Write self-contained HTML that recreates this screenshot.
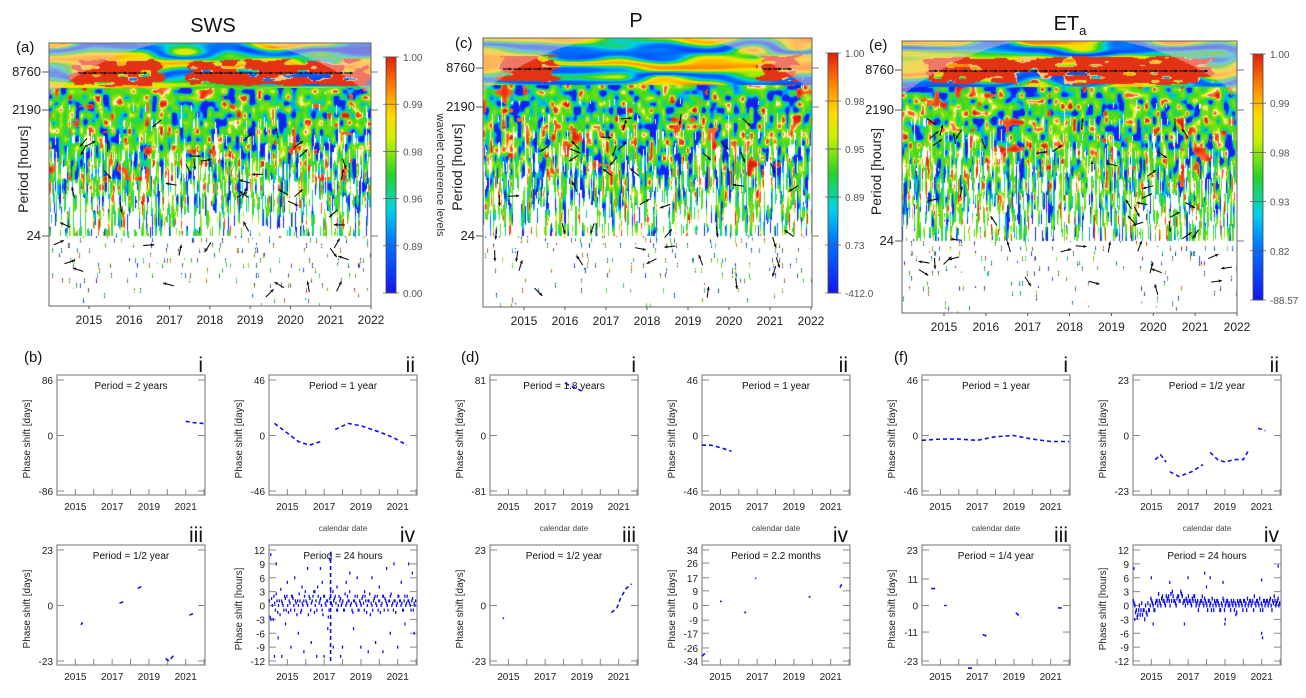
<!DOCTYPE html>
<html><head><meta charset="utf-8">
<style>
body{margin:0;background:#fff;width:1306px;height:698px;overflow:hidden;position:relative;font-family:"Liberation Sans",sans-serif}
canvas{position:absolute}
svg{position:absolute;left:0;top:0}
</style></head>
<body>
<canvas id="ca"></canvas>
<canvas id="cc"></canvas>
<canvas id="ce"></canvas>
<svg id="s" width="1306" height="698"></svg>
<script>
// ---- data: phase shift series ----
const years=[2015,2016,2017,2018,2019,2020,2021,2022];
const yearLabels=[2015,2017,2019,2021];
const bI=[[2021.0,22],[2021.4,20],[2021.8,19],[2022.1,18]];
const bII=[[2014.3,10],[2015,2],[2015.6,-5],[2016.2,-8],[2016.8,-5],null,[2017.6,5],[2018.3,10],[2019,8],[2020,3],[2020.8,-2],[2021.5,-8]];
const bIII=[[2015.3,-8],[2015.4,-7],null,[2017.4,1],[2017.6,1.5],null,[2018.4,7],[2018.6,8],null,[2019.9,-22],[2020.1,-23],[2020.4,-20],null,[2021.2,-4],[2021.5,-3]];
const bIVcoreA=[1,-3,0,2,-1,1,0,-2,1,0,2,-1,0,1,-1,2,0,1,-2,0,1,-1,0,2,1,0,2,-1,1,3,0,-1,2,1,0,-2,2,0,1,-1,3,0,1,2,-1,0,1,0,1,-1,0,2,1,0,-1,1,2,0,-1,1,0,2,-1,1,0,1,-2,0,1,2,0,-1,1,0,2,-1,1,0,1,2,0,-1,1,0,2,1,0,-1,1,0,2,1,0,1,-1,0];
const bIVcoreB=[-2.5,1.5,-3,0.5,2.5,-1.5,1,3.5,0.5,-1,1.5,2,-1.5,0.5,2,1.5,-1,0.5,1,2.5,-1.5,0.5,1,3,0.5,-2,1.5,0.5,2,-1.5,1,4,0.5,1.5,-1,2,0.5,1,-2.5,1.5,0.5,3,1.5,0.5,-1,2,1.5,0.5,-1,2.5,0.5,1,3,0.5,-1.5,1,0.5,2,-1,0.5,1.5,0.5,2,-1.5,1,2.5,0.5,-1,1.5,0.5,2,1,-1.5,0.5,2,1.5,0.5,-1,1,2.5,0.5,1,-1.5,0.5,2,1,0.5,-1,2,0.5,1,0.5,-1,1.5,0.5,1];
const bIVout=[[2014.1,11],[2014.3,-11],[2014.4,9],[2014.5,-7],[2014.7,-11],[2014.9,-4],[2015.0,5],[2015.2,-9],[2015.4,6],[2015.6,-6],[2015.8,4],[2015.9,-10],[2016.1,8],[2016.3,-8],[2016.5,3],[2016.6,-11],[2016.8,8],[2016.9,5],[2017.0,-11],[2017.2,-5],[2017.3,10],[2017.5,-9],[2017.7,4],[2017.9,-11],[2018.0,-9],[2018.2,5],[2018.4,7],[2018.6,-5],[2018.8,6],[2019.0,-9],[2019.2,3],[2019.4,-10],[2019.6,6],[2019.8,-8],[2020.0,4],[2020.2,-10],[2020.4,8],[2020.6,-6],[2020.8,9],[2021.0,-9],[2021.2,5],[2021.4,-4],[2021.6,9],[2021.8,7],[2021.9,-6]];
const bIVline=[[2017.35,-12],[2017.35,12]];
const dI=[[2018.1,76],[2018.5,71],[2019,65]];
const dII=[[2014,-8],[2014.5,-8],[2015,-10],[2015.6,-13]];
const dIII=[[2014.7,-5],[2014.75,-5.5],null,[2020.6,-3],[2020.9,-1],[2021.1,3],[2021.4,7],[2021.7,9]];
const dIV=[[2014,-31],[2014.3,-28],null,[2015,3],[2015.05,2],null,[2016.3,-4],[2016.4,-4.5],null,[2016.9,17],[2016.95,16.5],null,[2019.8,5],[2019.9,5.5],null,[2021.5,11],[2021.6,13]];
const fI=[[2014,-4],[2015,-3],[2016,-3],[2017,-4],[2018,-1],[2019,0],[2020,-3],[2021,-5],[2022,-5]];
const fII=[[2015.2,-10],[2015.5,-8],[2015.8,-11],null,[2016,-15],[2016.5,-17],[2017.2,-15],[2017.8,-12],null,[2018.2,-7],[2018.6,-10],[2019,-11],[2019.5,-10],[2020,-10],[2020.3,-6],null,[2020.8,3],[2021.2,2]];
const fIII=[[2014.5,7],[2014.8,7],null,[2015.2,0],[2015.35,0],null,[2016.5,-26],[2016.8,-26],null,[2017.3,-12],[2017.6,-13],null,[2019.1,-3],[2019.4,-5],null,[2021.4,-1],[2021.6,-1]];
const fIVcoreA=[1,0,-1,-2,0,-1,-2,-1,0,-2,-1,0,1,0,-1,1,0,1,0,2,1,0,1,2,0,1,2,1,0,2,1,3,2,1,0,1,2,1,0,1,2,0,1,0,1,2,0,1,0,1,0,-1,0,1,0,1,0,-1,0,1,0,1,0,0,1,0,-1,0,1,0,1,0,1,0,-1,0,1,0,1,2,0,1,0,-1,0,1,0,1,0,1,0,1,2,0,1,0];
const fIVcoreB=[0.5,-1.5,-2.5,-1,-2,0.5,-1,-3,-1.5,0.5,-1,1.5,0.5,-1,0.5,1,2.5,0.5,1.5,1,0.5,2,1.5,1,2.5,3,1,0.5,1.5,2,1,2.5,0.5,1,1.5,0.5,1,0.5,1.5,2,1,0.5,-1,0.5,1,0.5,1.5,0.5,-1,1,0.5,1.5,-1,0.5,1,0.5,-1,0.5,1.5,-1,0.5,1,0.5,-1,0.5,1,0.5,-1.5,0.5,1,0.5,-1,1,0.5,1.5,0.5,1,0.5,-1,0.5,1,0.5,1.5,0.5,-1,1,0.5,1,0.5,1.5,-1,0.5,1,0.5,1.5,0.5];
const fIVout=[[2014.05,8],[2014.1,-3],[2015.0,6],[2015.1,-4],[2016.0,5],[2016.8,-4],[2017.0,6],[2017.9,7],[2018.0,4],[2018.2,6],[2018.9,5],[2019.0,-4],[2019.02,-3],[2019.6,-2],[2021.0,5.5],[2021.0,-6],[2021.05,-7],[2021.9,8.5]];
const cbLabA=['1.00','0.99','0.98','0.96','0.89','0.00'];
const cbLabC=['1.00','0.98','0.95','0.89','0.73','-412.0'];
const cbLabE=['1.00','0.99','0.98','0.93','0.82','-88.57'];
const periodTicks=['8760','2190','24'];

const S=document.getElementById('s');const NS='http://www.w3.org/2000/svg';
function mk(tag,at,parent,txt){const e=document.createElementNS(NS,tag);for(const k in at)e.setAttribute(k,at[k]);if(txt!==undefined)e.textContent=txt;(parent||S).appendChild(e);return e;}

// ---- noise texture for heatmaps ----
function hsh(i,j,s){let n=(Math.imul(i,374761393)+Math.imul(j,668265263)+Math.imul(s,982451653))|0;n=Math.imul(n^(n>>>13),1274126177);n=n^(n>>>16);n=Math.imul(n^(n>>>15),2246822519);n=n^(n>>>13);return (n>>>0)/4294967295;}
function vn(x,y,s){const i=Math.floor(x),j=Math.floor(y),fx=x-i,fy=y-j;const u=fx*fx*(3-2*fx),v=fy*fy*(3-2*fy);
const a=hsh(i,j,s),b=hsh(i+1,j,s),c=hsh(i,j+1,s),d=hsh(i+1,j+1,s);return a+(b-a)*u+(c-a)*v+(a-b-c+d)*u*v;}
const cmapStops=[[0,[20,20,240]],[0.22,[0,120,255]],[0.35,[0,210,230]],[0.5,[40,210,40]],[0.65,[200,240,0]],[0.75,[255,220,0]],[0.86,[255,140,0]],[1,[225,30,10]]];
function cmap(v){v=Math.max(0,Math.min(1,v));for(let k=1;k<cmapStops.length;k++){if(v<=cmapStops[k][0]){const [a,ca]=cmapStops[k-1],[b,cb]=cmapStops[k];const t=(v-a)/(b-a);return [ca[0]+(cb[0]-ca[0])*t,ca[1]+(cb[1]-ca[1])*t,ca[2]+(cb[2]-ca[2])*t];}}return cmapStops[cmapStops.length-1][1];}
const midStops=[[0,[20,30,235]],[0.22,[20,40,240]],[0.3,[0,170,255]],[0.38,[0,220,150]],[0.46,[60,215,30]],[0.68,[120,225,20]],[0.76,[230,240,40]],[0.8,[255,255,255]],[0.83,[255,120,40]],[1,[225,30,10]]];
function mmap(v){v=Math.max(0,Math.min(1,v));for(let k=1;k<midStops.length;k++){if(v<=midStops[k][0]){const [a,ca]=midStops[k-1],[b,cb]=midStops[k];const t=(v-a)/(b-a);return [ca[0]+(cb[0]-ca[0])*t,ca[1]+(cb[1]-ca[1])*t,ca[2]+(cb[2]-ca[2])*t];}}return midStops[midStops.length-1][1];}
const levels=[[7,6],[4,8],[2,12],[1.2,18]];

function heat(id,P){
 const cv=document.getElementById(id);cv.width=P.w;cv.height=P.h;cv.style.left=P.x+'px';cv.style.top=P.y+'px';
 const ctx=cv.getContext('2d');const im=ctx.createImageData(P.w,P.h);const D=im.data;
 const tA=(P.y8760-P.y)/P.h,tC=(P.y24-P.y)/P.h;
 const tTop=tA+0.06;
 for(let py=0;py<P.h;py++){const t=py/P.h;const jit=0.04*(vn(py/4,3,P.s+9)-0.5);
  for(let px=0;px<P.w;px++){const xf=px/P.w;let white=false,c;
   if(t<tTop){
     let v=0.5+0.42*Math.sin(t*60+vn(px/45,py/10,P.s)*5)*(0.6+0.4*vn(px/70,py/6,P.s+1));
     c=cmap(v);
     let inRed=false;for(const z of P.red){if(xf>z[0]+jit&&xf<z[1]-jit)inRed=true;}
     const band=0.04+0.015*vn(px/20,2,P.s+7);
     if(inRed&&Math.abs(t-tA)<band){const q=vn(px/12,py/4,P.s+2);
       if(q>0.3)c=[228,50,20];else if(q>0.24)c=[255,200,120];}
   }else if(t<tC){
     const s=Math.max(0,(t-tTop)/(tC-tTop));
     const f=s*(levels.length-1);const k=Math.min(levels.length-2,Math.floor(f));const w=f-k;
     const n1=vn(px/levels[k][0],py/levels[k][1],P.s+4+k),n2=vn(px/levels[k+1][0],py/levels[k+1][1],P.s+5+k);
     let v=n1*(1-w)+n2*w; v=0.5+(v-0.5)/Math.sqrt((1-w)*(1-w)+w*w);
     const rb=vn(px/7,py/9,P.s+20);
     if(rb>0.8 && s<0.65 && hsh(Math.floor(px/25),Math.floor(py/30),P.s)>0.5) v=0.84+(rb-0.8)*1.0;
     c=mmap(v);
     if(vn(px/1.2,py/16,P.s+6)<s*0.62)white=true;
   }else{
     const s=(t-tC)/(1-tC);
     if(hsh(px,Math.floor(py/5),P.s+8)<0.05*(1-s)+0.005){c=mmap(hsh(px,py,P.s+3));}else white=true;
   }
   if(white){c=[255,255,255];}
   let [r,g,b]=c;
   const ex=(px-P.w/2)/(P.w*0.81),ey=(py-P.h*1.0)/(P.h*1.02);
   if(ex*ex+ey*ey>1 && t<tC){r=r*0.55+255*0.45;g=g*0.55+200*0.45;b=b*0.55+200*0.45;}
   const o=(py*P.w+px)*4;D[o]=r;D[o+1]=g;D[o+2]=b;D[o+3]=255;}}
 ctx.putImageData(im,0,0);
}
function arrow(x,y,ang,len,g){const dx=Math.cos(ang)*len,dy=Math.sin(ang)*len;
 const a=mk('line',{x1:x-dx/2,y1:y-dy/2,x2:x+dx/2,y2:y+dy/2,stroke:'#111','stroke-width':1.1},g);
 
 const hx=x+dx/2,hy=y+dy/2,h=3.5;
 mk('polygon',{points:`${hx},${hy} ${hx-h*Math.cos(ang-0.45)},${hy-h*Math.sin(ang-0.45)} ${hx-h*Math.cos(ang+0.45)},${hy-h*Math.sin(ang+0.45)}`,fill:'#111'},g);}

function topPanel(P){
 heat(P.cid,P);
 const g=mk('g',{}); 
 mk('rect',{x:P.x,y:P.y,width:P.w,height:P.h,fill:'none',stroke:'#666','stroke-width':1},g);
 for(const z of P.red){for(let xx=P.x+z[0]*P.w+8;xx<P.x+z[1]*P.w-6;xx+=10){arrow(xx,P.y8760+1,0,9,g);}}
 for(let k=0;k<P.arrowsN;k++){const ax=P.x+8+hsh(k,1,P.s)*(P.w-16),ay=P.y2190+10+hsh(k,2,P.s)*(P.y+P.h-P.y2190-20);arrow(ax,ay,hsh(k,3,P.s)*6.28,11,g);}
 const yt=[P.y8760,P.y2190,P.y24];
 periodTicks.forEach((lab,i)=>{mk('line',{x1:P.x-7,x2:P.x,y1:yt[i],y2:yt[i],stroke:'#555'},g);mk('line',{x1:P.x+P.w,x2:P.x+P.w+7,y1:yt[i],y2:yt[i],stroke:'#777'},g);
  const t=mk('text',{x:P.x-8,y:yt[i]+4,'text-anchor':'end','font-size':13,fill:'#222'},g,lab);});
 years.forEach(yr=>{const xx=P.x2015+(yr-2015)*(P.x2022-P.x2015)/7;mk('line',{x1:xx,x2:xx,y1:P.y+P.h,y2:P.y+P.h+3,stroke:'#555'},g);
  const t=mk('text',{x:xx,y:P.y+P.h+18,'text-anchor':'middle','font-size':12,fill:'#222'},g,yr);});
 const yt2=mk('text',{x:0,y:0,transform:`translate(${P.x-21},${P.y+P.h*0.48}) rotate(-90)`,'text-anchor':'middle','font-size':14,fill:'#222'},g,'Period [hours]');
 
 const gid='cbg'+P.cid;const df=mk('defs',{},g);const lg=mk('linearGradient',{id:gid,x1:0,y1:1,x2:0,y2:0},df);
 cmapStops.forEach(st=>mk('stop',{offset:st[0],'stop-color':`rgb(${st[1].map(Math.round).join(',')})`},lg));
 const cb=mk('rect',{x:P.cb[0],y:P.cb[1],width:10,height:P.cb[2],fill:`url(#${gid})`,stroke:'#444','stroke-width':0.8},g);
 
 P.cbl.forEach((lab,i)=>{const yy=P.cb[1]+i*P.cb[2]/5;mk('line',{x1:P.cb[0]-3,x2:P.cb[0]+13,y1:yy,y2:yy,stroke:'#555','stroke-width':0.7},g);
  const t=mk('text',{x:P.cb[0]+17,y:yy+4,'font-size':10,fill:'#555'},g,lab);});
}
topPanel({name:'sws',cid:'ca',x:49,y:43,w:322,h:263,y8760:72,y2190:110,y24:236,x2015:89,x2022:371,cb:[386,57,236],cbl:cbLabA,red:[[0.08,0.34],[0.44,0.98]],s:11,arrowsN:45});
topPanel({name:'p',cid:'cc',x:483,y:38,w:329,h:269,y8760:68,y2190:107,y24:236,x2015:524,x2022:811,cb:[828,53,240],cbl:cbLabC,red:[[0.05,0.22],[0.84,0.96]],s:23,arrowsN:45});
topPanel({name:'eta',cid:'ce',x:902,y:41,w:335,h:272,y8760:70,y2190:110,y24:241,x2015:944,x2022:1237,cb:[1253,54,246],cbl:cbLabE,red:[[0.07,0.93]],s:37,arrowsN:50});
function txt(x,y,s,size,name,extra){const t=mk('text',Object.assign({x:x,y:y,'font-size':size,fill:'#111'},extra||{}),S,s);return t;}
txt(213,32,'SWS',20,'title-sws',{'text-anchor':'middle'});
txt(636,27,'P',20,'title-p',{'text-anchor':'middle'});
const te=txt(1070,30,'ET',20,'title-eta',{'text-anchor':'middle'});mk('tspan',{'font-size':13,dy:5},te,'a');
txt(0,0,'wavelet coherence levels',11,'colorbar-title',{transform:'translate(437,175) rotate(90)','text-anchor':'middle',fill:'#333'});
txt(16,52,'(a)',15,'panel-label-a');txt(455,48,'(c)',15,'panel-label-c');txt(869,50,'(e)',15,'panel-label-e');
txt(24,362,'(b)',15,'panel-label-b');txt(461,362,'(d)',15,'panel-label-d');txt(894,362,'(f)',15,'panel-label-f');

// ---- bottom phase panels ----
function phase(P){
 const g=mk('g',{});
 const L=P.x,T=P.y,W=148,H=120;
 const xs=v=>L+(v-2014)*(W/8.05);
 const ys=v=>(T+5)+(P.yt[0]-v)*((H-9)/(P.yt[0]-P.yt[P.yt.length-1]));
 mk('rect',{x:L,y:T,width:W,height:H,fill:'none',stroke:'#888','stroke-width':1.2},g);
 P.yt.forEach(v=>{const yy=ys(v);mk('line',{x1:L,x2:L+7,y1:yy,y2:yy,stroke:'#888'},g);mk('line',{x1:L+W-7,x2:L+W,y1:yy,y2:yy,stroke:'#888'},g);
  const t=mk('text',{x:L-4,y:yy+4,'text-anchor':'end','font-size':10,fill:'#222'},g,v);});
 years.forEach(yr=>{const xx=xs(yr);if(xx<=L+W)mk('line',{x1:xx,x2:xx,y1:T+H,y2:T+H-6,stroke:'#888'},g);});
 yearLabels.forEach(yr=>{const t=mk('text',{x:xs(yr),y:T+H+15,'text-anchor':'middle','font-size':10,fill:'#222'},g,yr);});
 const yt=mk('text',{x:0,y:0,transform:`translate(${L-27},${T+H/2+4}) rotate(-90)`,'text-anchor':'middle','font-size':10,fill:'#222'},g,P.ylab);
 const pt=mk('text',{x:L+W/2,y:T+14,'text-anchor':'middle','font-size':10,fill:'#111'},g,P.title);
 const rn=mk('text',{x:L+W-2,y:T-3,'text-anchor':'end','font-size':21,fill:'#111'},g,P.rn);
 if(P.cal){const c=mk('text',{x:L+W/2,y:T+H+36,'text-anchor':'middle','font-size':8,fill:'#444'},g,'calendar date');}
 if(P.line){let d='',pen=false;P.line.forEach(p=>{if(!p){pen=false;return;}d+=(pen?'L':'M')+xs(p[0]).toFixed(1)+','+ys(p[1]).toFixed(1);pen=true;});
  const pl=mk('path',{d:d,fill:'none',stroke:'#1010ee','stroke-width':1.6,'stroke-dasharray':'4 3'},g);}
 const dot=(x,y,h)=>{const r=mk('rect',{x:xs(x)-0.7,y:ys(y)-h/2,width:1.3,height:h,fill:'#1010ee'},g);};
 if(P.cores){P.cores.forEach((arr,ci)=>arr.forEach((v,i)=>dot(2014.02+(i+ci*0.5)/12,v,P.coreH)));}
 if(P.out){P.out.forEach(p=>dot(p[0],p[1],3));}
}
const R1=375,R2=545;
phase({name:'b-i',x:57,y:R1,yt:[86,0,-86],ylab:'Phase shift [days]',title:'Period = 2 years',rn:'i',line:bI});
phase({name:'b-ii',x:269,y:R1,yt:[46,0,-46],ylab:'Phase shift [days]',title:'Period = 1 year',rn:'ii',line:bII,cal:1});
phase({name:'b-iii',x:57,y:R2,yt:[23,0,-23],ylab:'Phase shift [days]',title:'Period = 1/2 year',rn:'iii',line:bIII});
phase({name:'b-iv',x:269,y:R2,yt:[12,9,6,3,0,-3,-6,-9,-12],ylab:'Phase shift [hours]',title:'Period = 24 hours',rn:'iv',line:bIVline,cores:[bIVcoreA,bIVcoreB],coreH:3,out:bIVout});
phase({name:'d-i',x:490,y:R1,yt:[81,0,-81],ylab:'Phase shift [days]',title:'Period = 1.8 years',rn:'i',line:dI,cal:1});
phase({name:'d-ii',x:702,y:R1,yt:[46,0,-46],ylab:'Phase shift [days]',title:'Period = 1 year',rn:'ii',line:dII,cal:1});
phase({name:'d-iii',x:490,y:R2,yt:[23,0,-23],ylab:'Phase shift [days]',title:'Period = 1/2 year',rn:'iii',line:dIII});
phase({name:'d-iv',x:702,y:R2,yt:[34,26,17,9,0,-9,-17,-26,-34],ylab:'Phase shift [days]',title:'Period = 2.2 months',rn:'iv',line:dIV});
phase({name:'f-i',x:922,y:R1,yt:[46,0,-46],ylab:'Phase shift [days]',title:'Period = 1 year',rn:'i',line:fI,cal:1});
phase({name:'f-ii',x:1133,y:R1,yt:[23,0,-23],ylab:'Phase shift [days]',title:'Period = 1/2 year',rn:'ii',line:fII,cal:1});
phase({name:'f-iii',x:922,y:R2,yt:[23,11,0,-11,-23],ylab:'Phase shift [days]',title:'Period = 1/4 year',rn:'iii',line:fIII});
phase({name:'f-iv',x:1133,y:R2,yt:[12,9,6,3,0,-3,-6,-9,-12],ylab:'Phase shift [hours]',title:'Period = 24 hours',rn:'iv',cores:[fIVcoreA,fIVcoreB],coreH:4,out:fIVout});
</script>
</body></html>
